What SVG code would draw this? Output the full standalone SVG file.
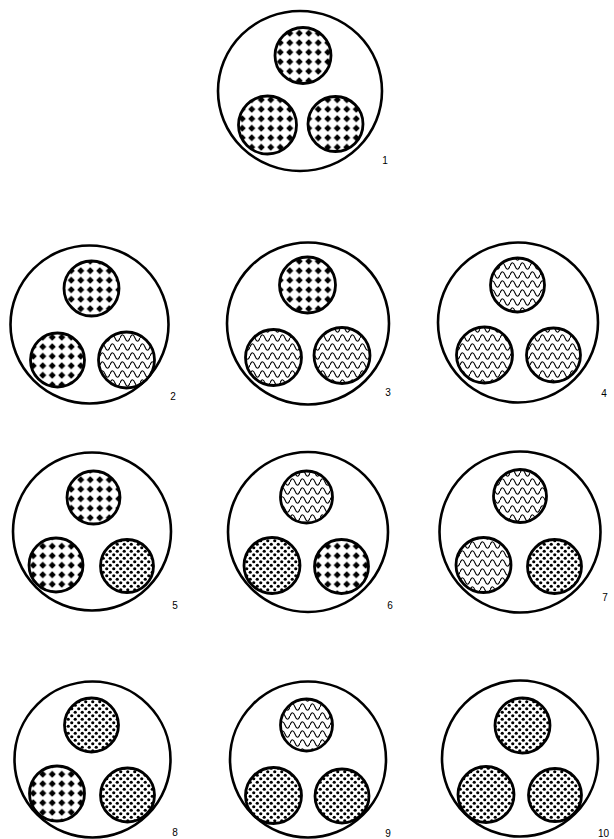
<svg xmlns="http://www.w3.org/2000/svg" width="614" height="839" viewBox="0 0 614 839">
<style>
.outer{fill:#fff;stroke:#000;stroke-width:2.6}
.in{stroke:#000;stroke-width:2.8}
.c{fill:url(#chk)}
.w{fill:url(#wav)}
.d{fill:url(#dot)}
.lbl{font-family:"Liberation Sans",Arial,sans-serif;font-size:10px;fill:#000;text-anchor:middle}
</style>
<defs>
<pattern id="chk" patternUnits="userSpaceOnUse" width="9.5" height="9.5">
<rect width="9.5" height="9.5" fill="#fff"/>
<polygon points="4.75,1.2 8.3,4.75 4.75,8.3 1.2,4.75" fill="#000"/>
</pattern>
<pattern id="wav" patternUnits="userSpaceOnUse" width="10" height="9">
<rect width="10" height="9" fill="#fff"/>
<path d="M0,5 Q2.5,-1.5 5,5 T10,5" fill="none" stroke="#000" stroke-width="1.1"/>
</pattern>
<pattern id="dot" patternUnits="userSpaceOnUse" width="7" height="7">
<rect width="7" height="7" fill="#fff"/>
<circle cx="1.75" cy="1.75" r="1.6" fill="#000"/>
<circle cx="5.25" cy="5.25" r="1.6" fill="#000"/>
</pattern>
</defs>

<g id="fig1">
<ellipse class="outer" cx="300" cy="91" rx="82" ry="80"/>
<circle class="in c" cx="303" cy="55.5" r="28"/>
<circle class="in c" cx="267.5" cy="125" r="29"/>
<circle class="in c" cx="335.5" cy="124" r="27.5"/>
<text class="lbl" x="385" y="164">1</text>
</g>

<g id="fig2">
<circle class="outer" cx="89.5" cy="324.5" r="79"/>
<circle class="in c" cx="91.5" cy="288.5" r="27.5"/>
<circle class="in c" cx="57.5" cy="360" r="27"/>
<circle class="in w" cx="126.5" cy="360" r="28"/>
<text class="lbl" x="173" y="400">2</text>
</g>

<g id="fig3">
<circle class="outer" cx="308" cy="323.5" r="81"/>
<circle class="in c" cx="307.5" cy="285" r="28"/>
<circle class="in w" cx="273.5" cy="357.5" r="28"/>
<circle class="in w" cx="342" cy="355.5" r="28"/>
<text class="lbl" x="388" y="396">3</text>
</g>

<g id="fig4">
<circle class="outer" cx="518" cy="322.5" r="80"/>
<circle class="in w" cx="517.5" cy="285" r="27"/>
<circle class="in w" cx="484.5" cy="355" r="28"/>
<circle class="in w" cx="553.5" cy="355" r="27"/>
<text class="lbl" x="604" y="397">4</text>
</g>

<g id="fig5">
<circle class="outer" cx="92" cy="531.5" r="79"/>
<circle class="in c" cx="93.5" cy="497.5" r="26.5"/>
<circle class="in c" cx="56" cy="565" r="27"/>
<circle class="in d" cx="127" cy="566" r="26.5"/>
<text class="lbl" x="175" y="609">5</text>
</g>

<g id="fig6">
<circle class="outer" cx="308" cy="532" r="80"/>
<circle class="in w" cx="306.5" cy="497" r="26"/>
<circle class="in d" cx="272" cy="565.5" r="28"/>
<circle class="in c" cx="341.5" cy="566.5" r="27"/>
<text class="lbl" x="390" y="609">6</text>
</g>

<g id="fig7">
<circle class="outer" cx="520" cy="532" r="80.5"/>
<circle class="in w" cx="520" cy="496" r="26.5"/>
<circle class="in w" cx="483.5" cy="565" r="27.5"/>
<circle class="in d" cx="554.5" cy="566.5" r="27"/>
<text class="lbl" x="605" y="601">7</text>
</g>

<g id="fig8">
<circle class="outer" cx="92.5" cy="759.5" r="78"/>
<circle class="in d" cx="91.5" cy="725" r="27"/>
<circle class="in c" cx="57" cy="793.5" r="27.5"/>
<circle class="in d" cx="127.5" cy="795" r="27"/>
<text class="lbl" x="175" y="836">8</text>
</g>

<g id="fig9">
<circle class="outer" cx="308" cy="759.5" r="78"/>
<circle class="in w" cx="306.5" cy="725" r="26"/>
<circle class="in d" cx="273.5" cy="795.5" r="28"/>
<circle class="in d" cx="342" cy="796" r="27"/>
<text class="lbl" x="388" y="837">9</text>
</g>

<g id="fig10">
<circle class="outer" cx="520" cy="758.5" r="78"/>
<circle class="in d" cx="522.5" cy="725.5" r="27.5"/>
<circle class="in d" cx="486" cy="794.5" r="28"/>
<circle class="in d" cx="555" cy="795" r="26.5"/>
<text class="lbl" x="598" y="837" style="text-anchor:start">10</text>
</g>
</svg>
